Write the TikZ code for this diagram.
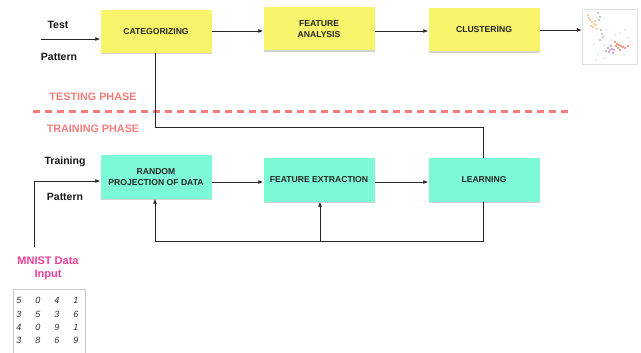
\documentclass[tikz,border=0pt]{standalone}
\usepackage{fontspec}
\setmainfont{Liberation Sans}
\usetikzlibrary{arrows.meta,shadows}
\definecolor{boxyellow}{HTML}{F7F36A}
\definecolor{boxteal}{HTML}{7CF9D6}
\definecolor{phasepink}{HTML}{F47C7C}
\definecolor{mnistpink}{HTML}{EC3E96}
\tikzset{
  proc/.style={draw=none, minimum width=111pt, minimum height=43pt, align=center,
    font=\fontsize{8.6}{10.5}\selectfont\bfseries, text=black!85,
    drop shadow={shadow xshift=0.8pt, shadow yshift=-1.2pt, opacity=0.35, fill=black!50}},
  ybox/.style={proc, fill=boxyellow},
  tbox/.style={proc, fill=boxteal},
  conn/.style={line width=0.8pt, black!85},
  arr/.style={conn, -{Latex[length=5pt,width=4pt]}},
  lbl/.style={font=\fontsize{10.5}{12}\selectfont\bfseries, text=black!90},
  phase/.style={font=\fontsize{10.8}{12}\selectfont\bfseries, text=phasepink},
  dot/.style={circle, inner sep=0pt, minimum size=1.6pt}
}
\begin{document}
\begin{tikzpicture}[x=1pt,y=-1pt]
\useasboundingbox (0,0) rectangle (641,353);
% testing row
\node[ybox] (cat) at (156,31.5) {CATEGORIZING};
\node[ybox] (fa) at (319,29) {FEATURE\\ANALYSIS};
\node[ybox] (clu) at (484,30) {CLUSTERING};
\node[lbl] (test) at (58,25) {Test};
\node[lbl] (tpat) at (59,57) {Pattern};
\coordinate (tin) at (41,39);
\draw[arr] (tin) -- (tin -| cat.west);
\draw[arr] (cat.east |- 0,31) -- (fa.west |- 0,31);
\draw[arr] (fa.east |- 0,31) -- (clu.west |- 0,31);
% scatter image
\node[draw=black!12, line width=0.4pt, minimum width=55pt, minimum height=55pt, inner sep=0pt] (sc) at (609.5,36.5) {};
\draw[arr] (clu.east |- 0,30) -- (sc.west |- 0,30);
\begin{scope}
\foreach \x/\y in {588/15,590/20,592/22,594/24,591/26,593/27,596/25,597/29,589/18,595/21}
  \fill[orange!80] (\x,\y) circle (0.9pt);
\foreach \x/\y in {598/13,600/17,599/20,601/30,602/34,603/37,600/40}
  \fill[green!50!black!60] (\x,\y) circle (0.8pt);
\foreach \x/\y in {608/48,610/50,612/49,609/52,613/53,606/51,611/46,614/50}
  \fill[violet!70] (\x,\y) circle (0.9pt);
\foreach \x/\y in {615/42,617/44,619/45,621/46,618/48,623/47,625/48,628/46,616/46,620/50}
  \fill[red!60!orange] (\x,\y) circle (0.8pt);
\foreach \x/\y in {586/12,604/45,598/55,596/60,605/58,615/35,620/33,625/30,628/38,630/42,624/55,632/44,594/44,611/40,606/30}
  \fill[black!30] (\x,\y) circle (0.6pt);
\end{scope}
% phases
\node[phase] (testing) at (93,97) {TESTING PHASE};
\node[phase] (training) at (93,129) {TRAINING PHASE};
\coordinate (dl) at (33,112);
\coordinate (dr) at (571,112);
\draw[phasepink, line width=3pt, dash pattern=on 7pt off 5pt] (dl) -- (dr);
% training row
\node[tbox] (rp) at (156,177) {RANDOM\\PROJECTION OF DATA};
\node[tbox] (fe) at (319,180) {FEATURE EXTRACTION};
\node[tbox] (learn) at (484,180) {LEARNING};
\node[lbl] (train) at (65,162) {Training};
\node[lbl] (rpat) at (65,197) {Pattern};
\draw[arr] (rp.east |- 0,182) -- (fe.west |- 0,182);
\draw[arr] (fe.east |- 0,182) -- (learn.west |- 0,182);
% categorizing -> learning
\coordinate (c1) at (155,127);
\coordinate (c2) at (483,127);
\draw[conn] (cat.south -| c1) -- (c1) -- (c2) -- (learn.north -| c2);
% feedback loop
\coordinate (f1) at (483,241);
\coordinate (f2) at (155,241);
\coordinate (f3) at (320,241);
\draw[conn] (learn.south -| f1) -- (f1) -- (f2);
\draw[arr] (f2) -- (rp.south -| f2);
\draw[arr] (f3) -- (fe.south -| f3);
% MNIST input
\coordinate (m1) at (34,247);
\coordinate (m2) at (34,181);
\draw[arr] (m1) -- (m2) -- (m2 -| rp.west);
\node[font=\fontsize{11}{13}\selectfont\bfseries, text=mnistpink, align=center] (mnist) at (48,268) {MNIST Data\\Input};
\node[draw=black!20, line width=0.5pt, fill=white, minimum width=72pt, minimum height=70pt, inner sep=0pt, anchor=north west] (img) at (13,289) {};
\begin{scope}[font=\fontsize{9}{10}\selectfont\itshape, text=black!80]
\foreach \d [count=\i from 0] in {5,0,4,1} \node at (19+19*\i,300) {\d};
\foreach \d [count=\i from 0] in {3,5,3,6} \node at (19+19*\i,314) {\d};
\foreach \d [count=\i from 0] in {4,0,9,1} \node at (19+19*\i,327) {\d};
\foreach \d [count=\i from 0] in {3,8,6,9} \node at (19+19*\i,340) {\d};
\end{scope}
\end{tikzpicture}
\end{document}
